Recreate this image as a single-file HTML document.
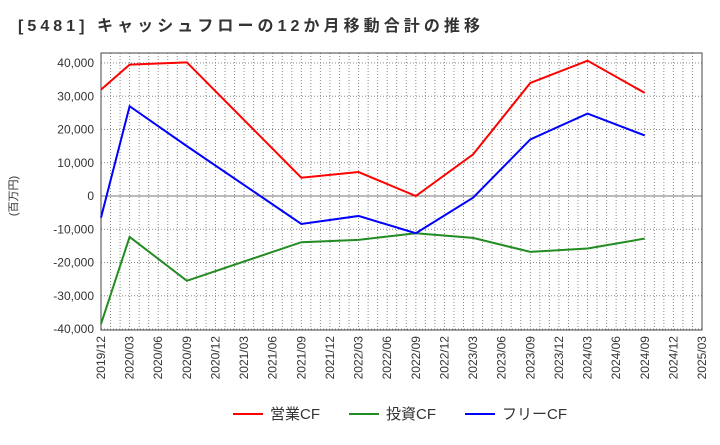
<!DOCTYPE html>
<html><head><meta charset="utf-8"><style>
body{margin:0;background:#fff;width:720px;height:440px;overflow:hidden;font-family:"Liberation Sans","Noto Sans CJK JP",sans-serif}
</style></head><body>
<svg width="720" height="440" xmlns="http://www.w3.org/2000/svg">
<text x="18" y="31" font-size="16" font-weight="bold" fill="#333" textLength="462" lengthAdjust="spacing" font-family="Liberation Sans,Noto Sans CJK JP,sans-serif">[5481]  キャッシュフローの12か月移動合計の推移</text>
<g id="grid"></g><g id="axes"></g><g id="series"></g>
<text transform="translate(17,196) rotate(-90)" font-size="11" fill="#333" text-anchor="middle" font-family="Liberation Sans,Noto Sans CJK JP,sans-serif">(百万円)</text>
<g>
<line x1="233" y1="414" x2="263" y2="414" stroke="#f00" stroke-width="2"/><text x="270" y="419" font-size="15" fill="#333">営業CF</text>
<line x1="349" y1="414" x2="379" y2="414" stroke="#228b22" stroke-width="2"/><text x="386" y="419" font-size="15" fill="#333">投資CF</text>
<line x1="465" y1="414" x2="495" y2="414" stroke="#00f" stroke-width="2"/><text x="502" y="419" font-size="15" fill="#333">フリーCF</text>
</g>
</svg>
<script>
const categories=["2019/12","2020/03","2020/06","2020/09","2020/12","2021/03","2021/06","2021/09","2021/12","2022/03","2022/06","2022/09","2022/12","2023/03","2023/06","2023/09","2023/12","2024/03","2024/06","2024/09","2024/12","2025/03"];
const yTicks=[-40000,-30000,-20000,-10000,0,10000,20000,30000,40000];
const operatingIdx=[0,1,3,7,9,11,13,15,17,19];
const operatingCF=[32000,39500,40200,5500,7200,0,12500,34000,40700,31000];
const investingCF=[-38500,-12300,-25500,-13900,-13200,-11200,-12600,-16800,-15800,-12800];
const freeCF=[-6500,27000,15000,-8400,-6000,-11200,-500,17000,24800,18200];
const L=101,R=702,T=53,B=330,NS="http://www.w3.org/2000/svg";
const xq=i=>L+(R-L)*i/(categories.length-1);
const y=v=>196-v*133/40000;
function mk(p,t,a){const e=document.createElementNS(NS,t);for(const k in a)e.setAttribute(k,a[k]);document.getElementById(p).appendChild(e);return e;}
const months=(categories.length-1)*3;
for(let m=1;m<months;m++){const x=L+(R-L)*m/months;const l=mk('grid','line',{x1:x,x2:x,y1:T,y2:B,stroke:'#888','stroke-dasharray':'1,2','stroke-width':1});

}
yTicks.forEach(v=>{const l=mk('grid','line',{x1:L,x2:R,y1:y(v),y2:y(v),stroke:v===0?'#777':'#888','stroke-dasharray':v===0?'none':'1,2','stroke-width':1});


const t=mk('axes','text',{x:L-7,y:y(v)+4,'font-size':12,'text-anchor':'end',fill:'#333'});t.textContent=v.toLocaleString('en-US');

});
const f=mk('axes','rect',{x:L,y:T,width:R-L,height:B-T,fill:'none',stroke:'#444'});


categories.forEach((c,i)=>{const t=mk('axes','text',{transform:`translate(${xq(i)+4},${B+6}) rotate(-90)`,'font-size':12,'text-anchor':'end',fill:'#333'});t.textContent=c;

});
[[operatingCF,'#f00','operating-cf-line'],[investingCF,'#228b22','investing-cf-line'],[freeCF,'#00f','free-cf-line']].forEach(([d,c,n])=>{
const p=mk('series','polyline',{points:d.map((v,k)=>xq(operatingIdx[k])+','+y(v)).join(' '),fill:'none',stroke:c,'stroke-width':2});

});
</script>
</body></html>
